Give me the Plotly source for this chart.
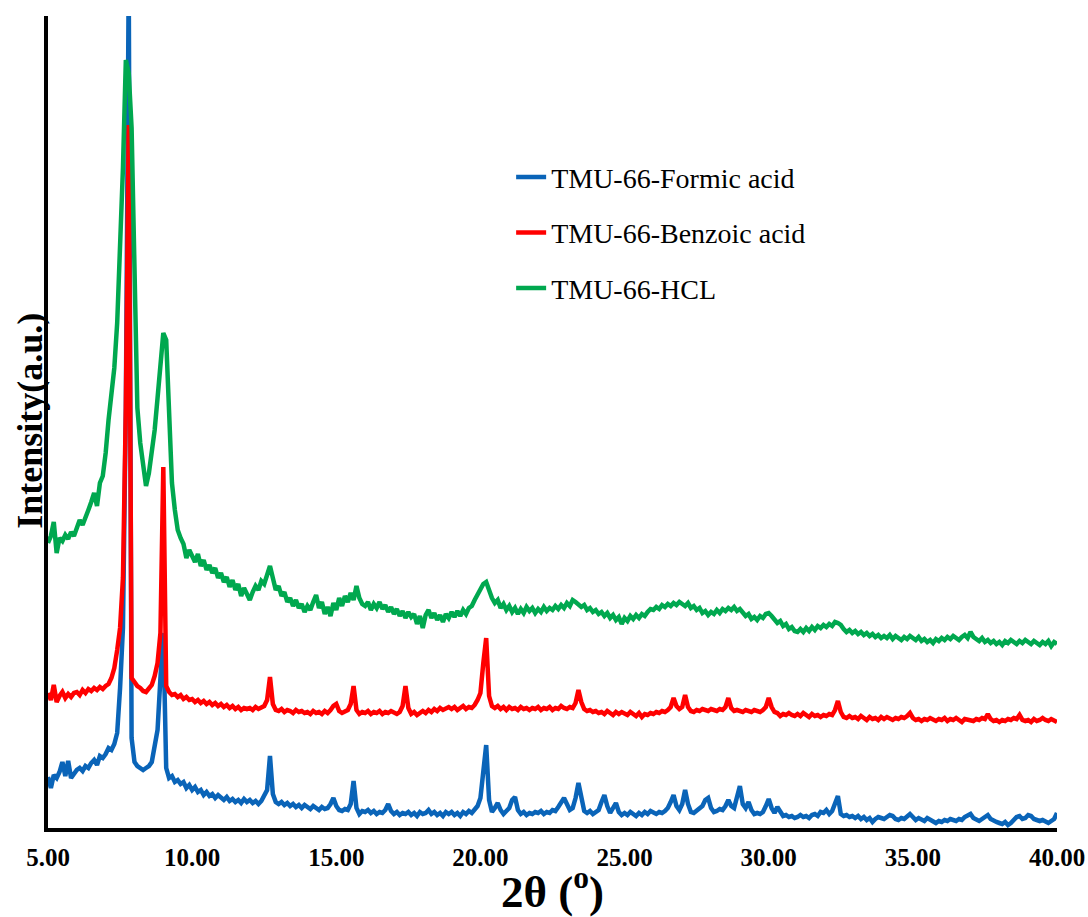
import plotly.graph_objects as go

# 2-theta sampling grid (degrees), 0.1 step from 5.0 to 40.0
two_theta_start = 5.0
two_theta_step = 0.1
n_points = 351
two_theta = [round(two_theta_start + i * two_theta_step, 1) for i in range(n_points)]

series_names = ["TMU-66-Formic acid", "TMU-66-Benzoic acid", "TMU-66-HCL"]

formic_acid = [
    51, 40, 53, 50, 56, 66, 52, 67, 50, 55,
    58, 60, 57, 62, 60, 65, 68, 63, 72, 70,
    74, 80, 78, 84, 95, 140, 200, 420, 850, 90,
    66, 62, 60, 58, 60, 62, 66, 82, 98, 150,
    195, 60, 50, 52, 46, 48, 44, 46, 40, 43,
    38, 41, 36, 38, 33, 36, 32, 34, 30, 33,
    30, 28, 31, 27, 29, 26, 28, 25, 29, 26,
    28, 25, 27, 24, 27, 32, 38, 72, 34, 26,
    24, 26, 23, 25, 22, 24, 21, 23, 20, 23,
    21, 19, 22, 20, 18, 21, 19, 20, 24, 30,
    22, 18, 17, 19, 18, 24, 47, 20, 14, 17,
    16, 18, 15, 17, 14, 16, 15, 18, 24, 17,
    14, 16, 13, 15, 14, 16, 13, 15, 12, 16,
    14, 15, 18, 14, 16, 13, 15, 12, 16, 14,
    16, 13, 15, 12, 16, 14, 17, 15, 18, 22,
    30, 55, 83, 28, 16, 20, 25, 18, 14, 17,
    20, 28, 31, 18, 14, 16, 13, 15, 14, 16,
    15, 17, 14, 16, 15, 18, 17, 21, 26, 30,
    24, 18, 20, 30, 45, 28, 17, 15, 17, 14,
    16, 18, 26, 33, 22, 15, 20, 25, 16, 13,
    15, 13, 16, 14, 12, 15, 13, 16, 14, 17,
    15, 14, 16, 15, 17, 20, 26, 33, 22, 18,
    24, 38, 24, 16, 15, 17, 19, 22, 28, 30,
    20, 16, 17, 19, 18, 22, 28, 22, 20, 32,
    42, 24, 20, 26, 18, 14, 15, 14, 16, 22,
    29, 20, 15, 21, 17, 12, 13, 11, 12, 10,
    11, 13, 11, 12, 10, 13, 14, 12, 16, 15,
    18, 14, 17, 24, 32, 14, 12, 13, 11, 12,
    10, 12, 9, 11, 8, 10, 6, 9, 11, 10,
    9, 11, 13, 12, 9, 8, 10, 9, 11, 14,
    11, 8, 10, 9, 7, 10, 8, 6, 5, 7,
    6, 8, 7, 9, 8, 7, 9, 8, 11, 13,
    14, 10, 8, 7, 9, 11, 13, 9, 7, 6,
    5, 4, 6, 3, 5, 8, 11, 12, 9, 10,
    13, 12, 9, 8, 7, 8, 6, 5, 7, 9,
    15,
]

benzoic_acid = [
    135, 128, 143, 126, 132, 136, 130, 134, 131, 135,
    136, 133, 138, 135, 139, 137, 140, 138, 141, 139,
    142, 144, 150, 160, 178, 200, 250, 420, 703, 150,
    146, 142, 140, 137, 136, 139, 143, 152, 165, 195,
    361, 142, 136, 133, 134, 131, 133, 129, 131, 128,
    129, 126, 128, 125, 127, 124, 126, 123, 125, 122,
    124, 121, 123, 120, 122, 119, 121, 118, 120, 119,
    120, 118, 121, 119, 120, 122, 128, 151, 124, 118,
    117, 119, 116, 118, 117, 115, 118, 116, 117, 115,
    116, 114, 117, 115, 116, 114, 117, 115, 118, 122,
    124, 117, 115, 116, 118, 124, 142, 118, 114, 116,
    115, 117, 114, 116, 115, 117, 114, 116, 115, 117,
    115, 114, 116, 122, 142, 120, 114, 116, 113, 115,
    117, 115, 118, 116, 119, 117, 120, 118, 119, 121,
    119, 121, 118, 120, 122, 119, 121, 120, 123, 128,
    135, 165, 190, 132, 122, 120, 122, 119, 121, 118,
    121, 119, 120, 118, 121, 119, 120, 118, 120, 119,
    121, 118, 120, 119, 121, 118, 120, 119, 122, 120,
    119, 121, 120, 125, 138, 126, 119, 117, 118, 116,
    117, 115, 116, 114, 117, 115, 113, 116, 114, 116,
    115, 113, 116, 114, 112, 115, 111, 114, 113, 115,
    114, 116, 115, 117, 116, 118, 121, 130, 122, 119,
    121, 133, 121, 117, 116, 118, 117, 119, 118, 117,
    119, 118, 117, 119, 118, 121, 130, 120, 117, 118,
    117, 116, 118, 117, 116, 118, 117, 116, 118, 121,
    130, 121, 116, 115, 112, 114, 113, 115, 113, 112,
    114, 112, 115, 113, 111, 114, 112, 113, 111, 113,
    112, 114, 113, 118, 127, 116, 111, 110, 112, 110,
    111, 109, 112, 110, 108, 111, 109, 110, 108, 111,
    109, 111, 110, 108, 110, 109, 111, 110, 112, 115,
    110, 108, 109, 107, 109, 108, 110, 108, 107, 109,
    108, 110, 107, 109, 108, 110, 108, 106, 109, 108,
    108, 107, 109, 108, 110, 109, 114, 109, 107, 108,
    106, 108, 107, 109, 108, 110, 109, 113, 108, 107,
    108, 106, 109, 107, 108, 110, 108, 107, 109, 108,
    106,
]

hcl = [
    285, 292, 306, 275, 290, 287, 293, 289, 296, 292,
    300, 308, 303, 312, 318, 326, 335, 322, 345, 352,
    375, 408, 430, 460, 505, 570, 660, 768, 755, 700,
    555, 420, 385, 362, 342, 355, 375, 398, 430, 470,
    495, 488, 400, 345, 318, 298, 290, 284, 270, 278,
    272, 266, 274, 262, 268, 258, 263, 255, 260, 250,
    255, 246, 251, 241, 248, 238, 244, 232, 240, 235,
    228, 236, 242, 238, 247, 244, 252, 262, 250, 238,
    242, 232, 236, 226, 230, 222, 228, 220, 224, 216,
    222, 218, 226, 233, 220, 226, 214, 221, 212, 225,
    218, 230, 222, 232, 226, 235, 228, 242, 230, 224,
    222, 226, 218, 224, 220, 226, 219, 223, 216, 221,
    214, 219, 212, 217, 210, 216, 211, 214, 204, 212,
    200, 213, 218, 210, 215, 208, 213, 206, 214, 210,
    216, 211, 217, 212, 218, 214, 220, 222, 228, 234,
    238, 244, 246, 236, 230, 225, 228, 220, 224, 218,
    222, 216, 220, 214, 219, 215, 221, 217, 220, 215,
    219, 216, 221, 217, 220, 218, 222, 219, 223, 220,
    225, 222, 228, 226, 224, 221, 223, 218, 220, 216,
    218, 214, 216, 212, 215, 210, 213, 208, 211, 204,
    210, 207, 212, 209, 213, 210, 214, 212, 216, 219,
    218, 221, 219, 223, 221, 224, 222, 225, 223, 226,
    224, 222, 225, 220, 222, 218, 220, 215, 217, 213,
    216, 214, 218, 215, 219, 217, 220, 218, 221, 217,
    219, 215, 212, 214, 209, 211, 208, 212, 210, 214,
    215, 212, 209, 205, 207, 202, 204, 199, 201, 197,
    196, 199, 196, 200, 197, 201, 198, 202, 200, 203,
    201, 204, 202, 206, 205, 203, 199, 196, 198, 195,
    197, 194, 196, 193, 195, 192, 194, 191, 193, 190,
    192, 190, 193, 189, 192, 190, 188, 191, 189, 192,
    190, 188, 191, 187, 189, 186, 188, 185, 189, 187,
    190, 188, 191, 189, 192, 190, 188, 191, 193, 190,
    196, 191, 189, 187, 190, 186, 188, 185, 187, 184,
    186, 183, 187, 185, 188, 186, 184, 187, 185, 188,
    186, 184, 187, 185, 183, 186, 184, 187, 182, 186,
    184,
]

tick_values = [5, 10, 15, 20, 25, 30, 35, 40]
tick_labels = ["5.00", "10.00", "15.00", "20.00", "25.00", "30.00", "35.00", "40.00"]
x_title = "2θ (<sup>o</sup>)"
y_title = "Intensity(a.u.)"

colors = ["#0A64B8", "#FF0000", "#00A84F"]
all_series = [formic_acid, benzoic_acid, hcl]

fig = go.Figure()
for i, (name, ys, col) in enumerate(zip(series_names, all_series, colors)):
    fig.add_trace(go.Scatter(
        x=two_theta, y=ys, mode="lines", name=name,
        line=dict(color=col, width=4.5),
        legendgroup=f"g{i}",
    ))

serif = "Liberation Serif, Times New Roman, serif"

fig.update_layout(
    width=1088, height=917,
    margin=dict(l=48, r=31, t=16, b=89, autoexpand=False),
    paper_bgcolor="white", plot_bgcolor="white",
    showlegend=True,
    legend=dict(
        x=0.459, y=0.832, xanchor="left", yanchor="top",
        font=dict(family=serif, size=28, color="black"),
        tracegroupgap=16, bgcolor="rgba(0,0,0,0)",
    ),
    xaxis=dict(
        range=[5, 40], tickvals=tick_values, ticktext=tick_labels,
        showline=True, linecolor="black", linewidth=4,
        showgrid=False, zeroline=False, ticks="",
        ticklabelstandoff=4,
        tickfont=dict(family=serif, size=25, color="black", weight="bold"),
    ),
    yaxis=dict(
        range=[0, 812], showticklabels=False, ticks="",
        showline=True, linecolor="black", linewidth=4,
        showgrid=False, zeroline=False,
    ),
    annotations=[
        dict(
            text=x_title, xref="paper", yref="paper", x=0.5, y=-0.074,
            xanchor="center", yanchor="middle", showarrow=False,
            font=dict(family=serif, size=45, color="black", weight="bold"),
        ),
        dict(
            text=y_title, xref="paper", yref="paper", x=-0.0175, y=0.502,
            xanchor="center", yanchor="middle", showarrow=False, textangle=-90,
            font=dict(family=serif, size=36, color="black", weight="bold"),
        ),
    ],
)

# remove the default page margin so the figure fills the 1088x917 window exactly
fig.write_html(
    "out.html",
    config={"displayModeBar": False},
    post_script="document.body.style.margin='0';",
)
